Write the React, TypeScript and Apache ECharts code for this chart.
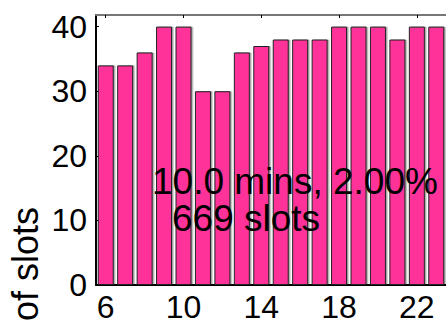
import React, { useEffect, useRef } from "react";
import * as echarts from "echarts";

const hours = ["6", "7", "8", "9", "10", "11", "12", "13", "14", "15", "16", "17", "18", "19", "20", "21", "22", "23"];
const slots = [34, 34, 36, 40, 40, 30, 30, 36, 37, 38, 38, 38, 40, 40, 40, 38, 40, 40];
const yTicks = [0, 10, 20, 30, 40];
const annotationLine1 = "10.0 mins, 2.00%";
const annotationLine2 = "669 slots";
const yAxisTitle = "of slots";

const FONT = "'Liberation Sans', Arial, sans-serif";

export default function App() {
  const ref = useRef<HTMLDivElement>(null);
  useEffect(() => {
    if (!ref.current) return;
    const chart = echarts.init(ref.current, undefined, { renderer: "svg" });
    chart.setOption({
      animation: false,
      backgroundColor: "#ffffff",
      grid: { left: 96, top: 15, width: 355, height: 270, containLabel: false },
      xAxis: [
        {
          type: "category",
          data: hours,
          position: "bottom",
          boundaryGap: true,
          axisLine: { show: true, lineStyle: { color: "#000", width: 2 } },
          axisTick: { show: false },
          axisLabel: {
            interval: 3,
            color: "#000",
            fontSize: 32,
            lineHeight: 32,
            fontFamily: FONT,
            margin: 6,
          },
          splitLine: { show: false },
        },
        {
          type: "category",
          data: hours,
          position: "top",
          boundaryGap: true,
          axisLine: { show: true, lineStyle: { color: "#777", width: 2 } },
          axisTick: { show: true, inside: true, interval: 3, alignWithLabel: true, length: 3, lineStyle: { color: "#000", width: 1 } },
          axisLabel: { show: false },
          splitLine: { show: false },
        },
      ],
      yAxis: {
        type: "value",
        min: 0,
        max: 41.8,
        interval: 10,
        axisLine: { show: true, lineStyle: { color: "#000", width: 2 } },
        axisTick: { show: true, inside: true, length: 3, customValues: yTicks, lineStyle: { color: "#000" } },
        axisLabel: {
          customValues: yTicks,
          color: "#000",
          fontSize: 32,
          fontFamily: FONT,
          margin: 9,
        },
        splitLine: { show: false },
      },
      series: [
        {
          type: "bar",
          data: slots,
          xAxisIndex: 0,
          barWidth: 16,
          itemStyle: {
            color: "#FF3399",
            borderColor: "#222",
            borderWidth: 1,
            shadowColor: "rgba(0,0,0,0.35)",
            shadowOffsetX: 1.5,
            shadowBlur: 0,
          },
        },
      ],
      graphic: [
        {
          type: "text",
          x: 152,
          y: 163,
          style: {
            text: annotationLine1,
            fill: "#000",
            font: `37px ${FONT}`,
            textAlign: "left",
            textVerticalAlign: "top",
          },
          z: 100,
        },
        {
          type: "text",
          x: 172,
          y: 200,
          style: {
            text: annotationLine2,
            fill: "#000",
            font: `37px ${FONT}`,
            textAlign: "left",
            textVerticalAlign: "top",
          },
          z: 100,
        },
        {
          type: "text",
          x: 7,
          y: 207,
          rotation: Math.PI / 2,
          style: {
            text: yAxisTitle,
            fill: "#000",
            font: `36px ${FONT}`,
            textAlign: "right",
            textVerticalAlign: "top",
          },
          z: 100,
        },
      ],
    });
    return () => chart.dispose();
  }, []);
  return <div ref={ref} style={{ position: "absolute", left: 0, top: 0, width: 446, height: 324 }} />;
}
